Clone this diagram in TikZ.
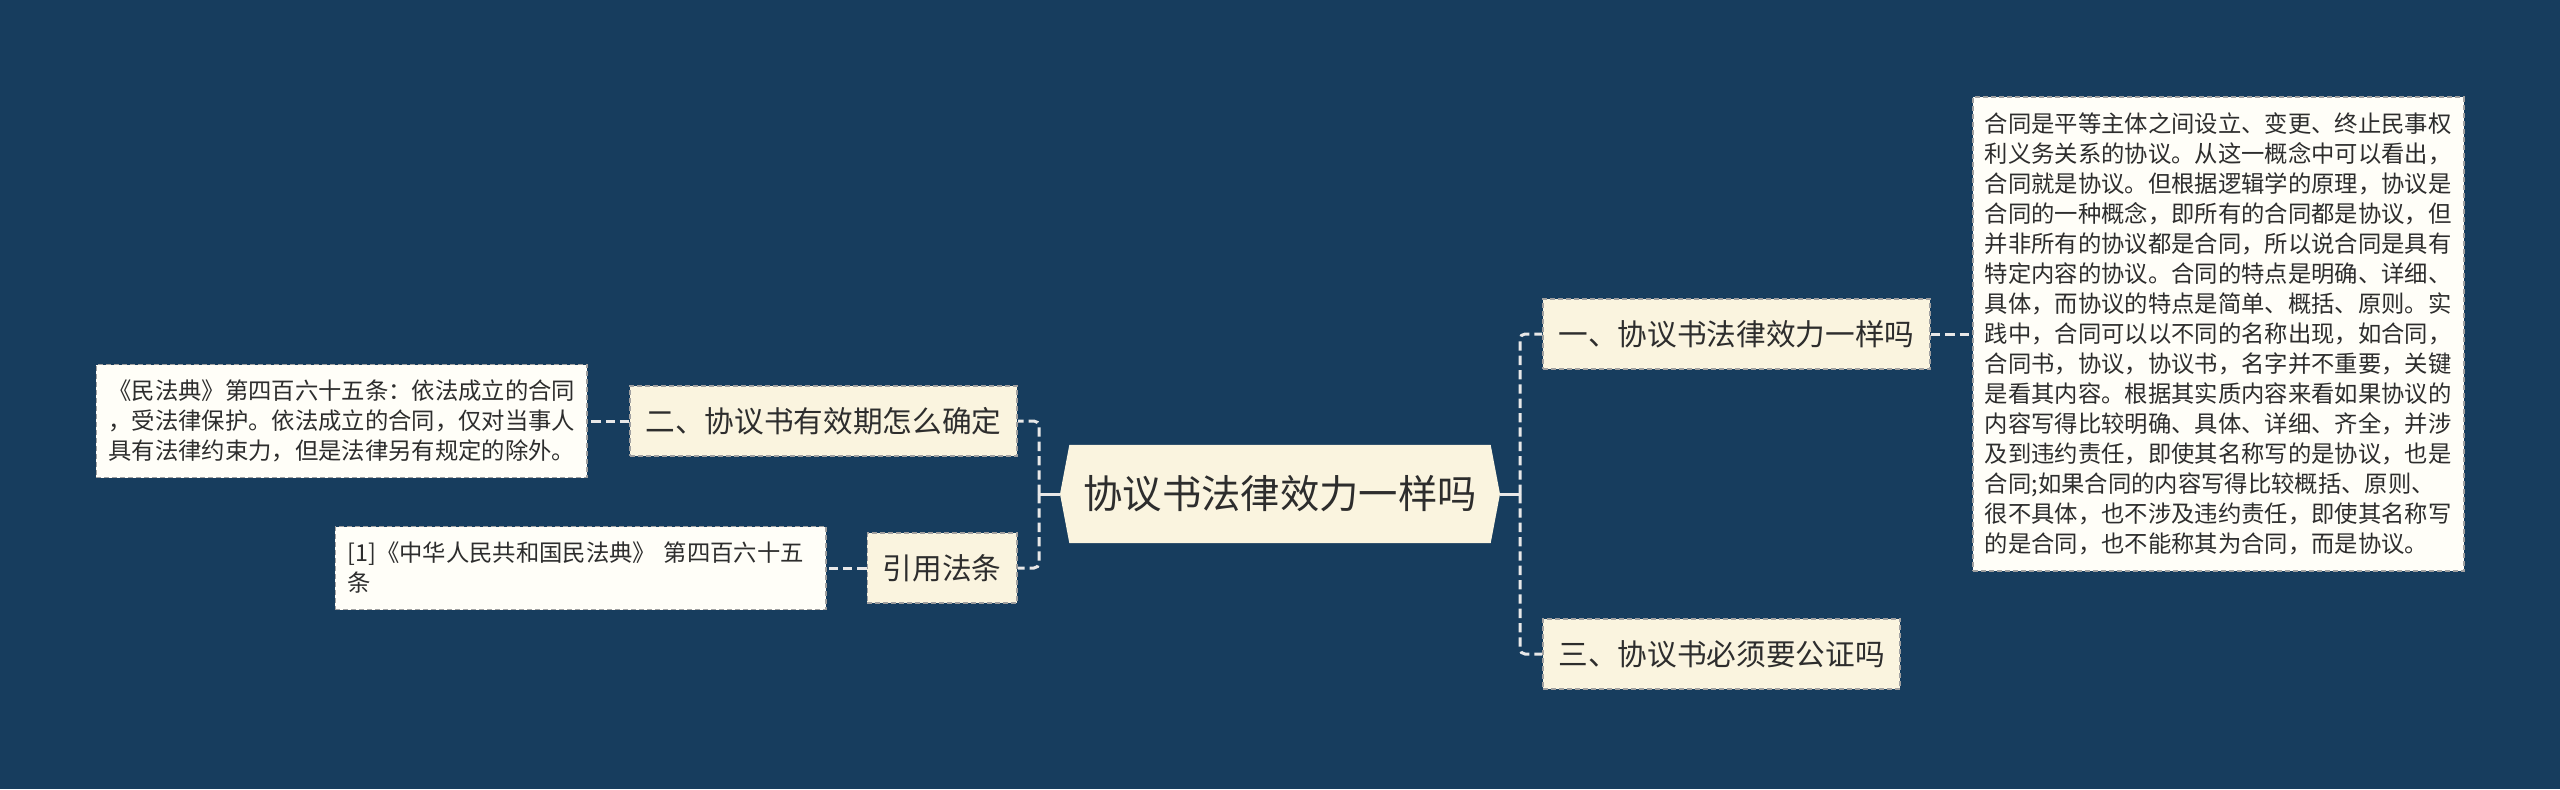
\documentclass[tikz,border=0pt]{standalone}
\usepackage{fontspec}
\newfontfamily\cjk{Noto Sans CJK SC}
\usepackage{xcolor}
\usetikzlibrary{backgrounds}
\definecolor{bgnavy}{RGB}{23,61,94}
\definecolor{cream}{RGB}{250,244,223}
\definecolor{paper}{RGB}{255,254,248}
\definecolor{ink}{RGB}{45,45,45}
\definecolor{wire}{RGB}{232,232,232}
\definecolor{rim}{RGB}{160,160,160}
\tikzset{
  hub/.style={inner sep=0pt,minimum width=126pt,minimum height=29.1pt,text=ink,font=\cjk\fontsize{11.8pt}{14pt}\selectfont},
  topic/.style={draw=rim,line width=0.55pt,dash pattern=on 1.5pt off 0.9pt,fill=cream,inner xsep=4.65pt,inner ysep=0pt,minimum height=21pt,text=ink,font=\cjk\fontsize{8.9pt}{11pt}\selectfont},
  leaf/.style={draw=rim,line width=0.55pt,dash pattern=on 1.5pt off 0.9pt,fill=paper,inner xsep=3.6pt,inner ysep=0pt,text width=140pt,align=left,text=ink,font=\cjk\fontsize{7pt}{9pt}\selectfont},
  stem/.style={draw=wire,line width=0.9pt},
  link/.style={draw=wire,line width=0.9pt,dash pattern=on 2.8pt off 1.5pt,rounded corners=1.5pt},
}
\begin{document}
\begin{tikzpicture}[x=0.3pt,y=-0.3pt]
  \useasboundingbox (0,0) rectangle (2560,789);
  \node[hub] (hub) at (1280,494) {协议书法律效力一样吗};
  \coordinate (hubL) at (1060,494);
  \coordinate (hubR) at (1500,494);
  \coordinate (jL) at (1039,494);
  \coordinate (jR) at (1520,494);

  \node[topic,anchor=west] (q1) at (1542,334) {一、协议书法律效力一样吗};
  \node[topic,anchor=west] (q3) at (1542,654) {三、协议书必须要公证吗};
  \node[topic,anchor=east] (q2) at (1018,421) {二、协议书有效期怎么确定};
  \node[topic,anchor=east] (law) at (1018,568) {引用法条};

  \node[leaf,anchor=west,minimum height=142.2pt] (a1) at (1972,334) {合同是平等主体之间设立、变更、终止民事权\\利义务关系的协议。从这一概念中可以看出，\\合同就是协议。但根据逻辑学的原理，协议是\\合同的一种概念，即所有的合同都是协议，但\\并非所有的协议都是合同，所以说合同是具有\\特定内容的协议。合同的特点是明确、详细、\\具体，而协议的特点是简单、概括、原则。实\\践中，合同可以以不同的名称出现，如合同，\\合同书，协议，协议书，名字并不重要，关键\\是看其内容。根据其实质内容来看如果协议的\\内容写得比较明确、具体、详细、齐全，并涉\\及到违约责任，即使其名称写的是协议，也是\\合同;如果合同的内容写得比较概括、原则、\\很不具体，也不涉及违约责任，即使其名称写\\的是合同，也不能称其为合同，而是协议。};
  \node[leaf,anchor=east,minimum height=33.9pt] (a2) at (588,421) {《民法典》第四百六十五条：依法成立的合同\\，受法律保护。依法成立的合同，仅对当事人\\具有法律约束力，但是法律另有规定的除外。};
  \node[leaf,anchor=east,minimum height=24.9pt] (src) at (827,568) {[1]《中华人民共和国民法典》 第四百六十五\\条};

  \draw[stem] (hubL) -- (jL);
  \draw[stem] (hubR) -- (jR);
  \draw[link] (jL) |- (q2.east);
  \draw[link] (jL) |- (law.east);
  \draw[link] (jR) |- (q1.west);
  \draw[link] (jR) |- (q3.west);
  \draw[link] (q1.east) -- (a1.west);
  \draw[link] (q2.west) -- (a2.east);
  \draw[link] (law.west) -- (src.east);

  \begin{scope}[on background layer]
    \fill[bgnavy] (0,0) rectangle (2560,789);
    \fill[cream] (hub.north west) -- (hub.north east) -- (hubR) -- (hub.south east) -- (hub.south west) -- (hubL) -- cycle;
  \end{scope}
\end{tikzpicture}
\end{document}
